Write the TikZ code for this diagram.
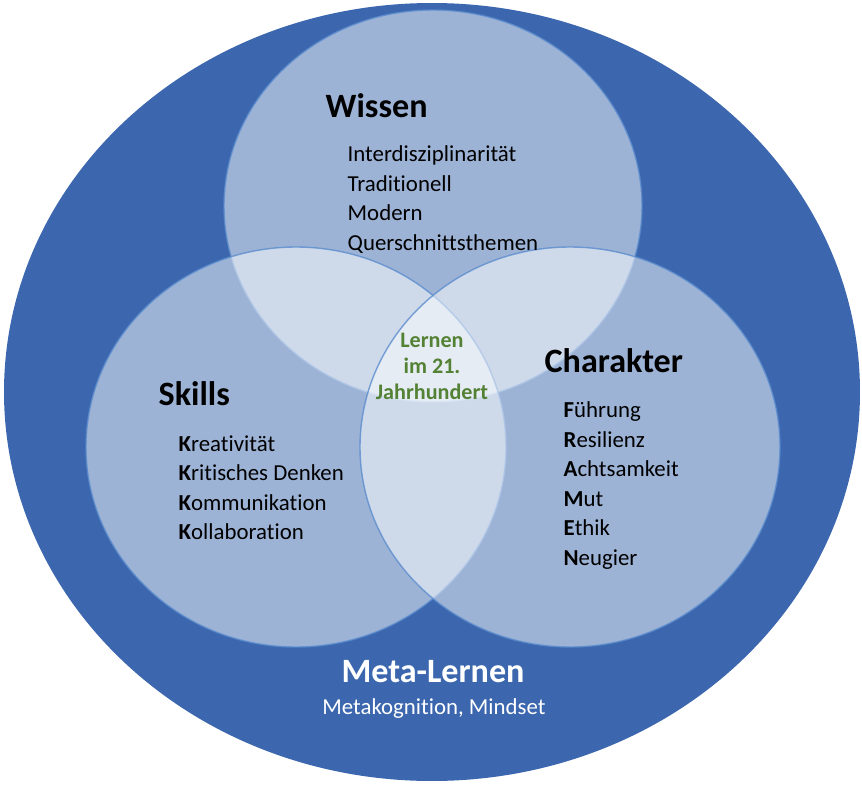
\documentclass[tikz,border=0pt]{standalone}
\usepackage{fontspec}
\setmainfont{Carlito}[Ligatures=NoCommon]

\definecolor{metablau}{RGB}{60,103,174}
\definecolor{kreislinie}{RGB}{90,140,205}
\definecolor{lerngruen}{RGB}{84,130,53}

\begin{document}
\begin{tikzpicture}[
	kreis/.style={fill=white, fill opacity=0.5, draw=kreislinie, draw opacity=0.8, line width=0.4pt},
	titel/.style={font=\fontsize{9.7}{11}\selectfont\bfseries, inner sep=0pt},
	liste/.style={font=\fontsize{6.5}{8.4}\selectfont, align=left, anchor=north west, inner sep=0pt}
]
			\useasboundingbox (0, 0) rectangle (8.62, 7.84);
			\fill[white] (0, 0) rectangle (8.62, 7.84);
			\fill[metablau] (4.32, 3.92) ellipse (4.28 and 3.89);
			
			\draw[kreis] (4.33, 5.78) ellipse (2.09 and 1.96);
			\draw[kreis] (2.96, 3.37) ellipse (2.10 and 2.00);
			\draw[kreis] (5.70, 3.37) ellipse (2.10 and 2.00);
			
			\node[titel, anchor=base west] (wissen) at (3.25, 6.67) {Wissen};
			\node[liste] (wissenliste) at (3.47, 6.39) {Interdisziplinarität\\Traditionell\\Modern\\Querschnittsthemen};
			
			\node[titel, anchor=base west] (skills) at (1.58, 3.79) {Skills};
			\node[liste] (skillsliste) at (1.78, 3.49) {\textbf{K}reativität\\\textbf{K}ritisches Denken\\\textbf{K}ommunikation\\\textbf{K}ollaboration};
			
			\node[titel, anchor=base west] (charakter) at (5.44, 4.12) {Charakter};
			\node[liste] (charakterliste) at (5.63, 3.83) {\textbf{F}ührung\\\textbf{R}esilienz\\\textbf{A}chtsamkeit\\\textbf{M}ut\\\textbf{E}thik\\\textbf{N}eugier};
			
			\node[lerngruen, font=\fontsize{6.3}{7.4}\selectfont\bfseries, align=center, anchor=north, inner sep=0pt] (lernen) at (4.32, 4.52) {Lernen\\im 21.\\Jahrhundert};
			
			\node[titel, white, anchor=base] (meta) at (4.33, 1.02) {Meta-Lernen};
			\node[white, font=\fontsize{6.5}{8}\selectfont, anchor=base, inner sep=0pt] (metatext) at (4.34, 0.70) {Metakognition, Mindset};
\end{tikzpicture}
\end{document}
